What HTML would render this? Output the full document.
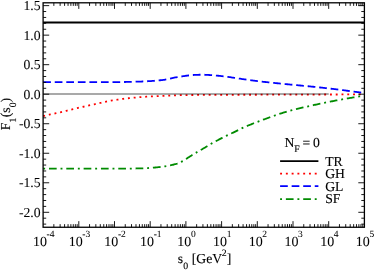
<!DOCTYPE html>
<html><head><meta charset="utf-8"><title>plot</title>
<style>html,body{margin:0;padding:0;background:#fff;overflow:hidden}body{width:374px;height:270px;font-family:"Liberation Serif",serif}</style>
</head><body>
<svg width="374" height="270" viewBox="0 0 374 270" style="display:block">
<rect x="0" y="0" width="374" height="270" fill="#fff"/>
<line x1="43.1" y1="22.55" x2="364.4" y2="22.55" stroke="#000" stroke-width="1.9"/>
<path d="M43.20,116.00 L44.20,115.79 L45.20,115.57 L46.20,115.36 L47.20,115.14 L48.20,114.93 L49.20,114.71 L50.20,114.49 L51.20,114.27 L52.20,114.05 L53.20,113.83 L54.20,113.62 L55.20,113.39 L56.20,113.17 L57.20,112.95 L58.20,112.72 L59.20,112.49 L60.20,112.26 L61.20,112.03 L62.20,111.79 L63.20,111.55 L64.20,111.30 L65.20,111.05 L66.20,110.80 L67.20,110.54 L68.20,110.29 L69.20,110.04 L70.20,109.79 L71.20,109.54 L72.20,109.30 L73.20,109.06 L74.20,108.82 L75.20,108.59 L76.20,108.36 L77.20,108.12 L78.20,107.89 L79.20,107.66 L80.20,107.43 L81.20,107.20 L82.20,106.97 L83.20,106.75 L84.20,106.52 L85.20,106.29 L86.20,106.06 L87.20,105.84 L88.20,105.61 L89.20,105.39 L90.20,105.16 L91.20,104.94 L92.20,104.72 L93.20,104.50 L94.20,104.28 L95.20,104.06 L96.20,103.84 L97.20,103.62 L98.20,103.41 L99.20,103.20 L100.20,102.99 L101.20,102.77 L102.20,102.55 L103.20,102.33 L104.20,102.10 L105.20,101.88 L106.20,101.65 L107.20,101.43 L108.20,101.22 L109.20,101.01 L110.20,100.82 L111.20,100.64 L112.20,100.47 L113.20,100.31 L114.20,100.15 L115.20,99.99 L116.20,99.84 L117.20,99.69 L118.20,99.54 L119.20,99.40 L120.20,99.26 L121.20,99.12 L122.20,98.98 L123.20,98.85 L124.20,98.73 L125.20,98.60 L126.20,98.48 L127.20,98.36 L128.20,98.25 L129.20,98.14 L130.20,98.03 L131.20,97.93 L132.20,97.83 L133.20,97.74 L134.20,97.64 L135.20,97.56 L136.20,97.47 L137.20,97.39 L138.20,97.31 L139.20,97.23 L140.20,97.15 L141.20,97.07 L142.20,97.00 L143.20,96.93 L144.20,96.86 L145.20,96.79 L146.20,96.72 L147.20,96.66 L148.20,96.59 L149.20,96.53 L150.20,96.47 L151.20,96.41 L152.20,96.36 L153.20,96.30 L154.20,96.25 L155.20,96.20 L156.20,96.15 L157.20,96.10 L158.20,96.06 L159.20,96.01 L160.20,95.97 L161.20,95.92 L162.20,95.88 L163.20,95.83 L164.20,95.79 L165.20,95.74 L166.20,95.70 L167.20,95.66 L168.20,95.62 L169.20,95.57 L170.20,95.53 L171.20,95.50 L172.20,95.46 L173.20,95.42 L174.20,95.38 L175.20,95.35 L176.20,95.32 L177.20,95.29 L178.20,95.25 L179.20,95.23 L180.20,95.20 L181.20,95.17 L182.20,95.15 L183.20,95.12 L184.20,95.10 L185.20,95.09 L186.20,95.07 L187.20,95.05 L188.20,95.04 L189.20,95.03 L190.20,95.01 L191.20,95.00 L192.20,94.99 L193.20,94.98 L194.20,94.97 L195.20,94.96 L196.20,94.95 L197.20,94.94 L198.20,94.93 L199.20,94.92 L200.20,94.91 L201.20,94.90 L202.20,94.89 L203.20,94.89 L204.20,94.88 L205.20,94.87 L206.20,94.87 L207.20,94.86 L208.20,94.86 L209.20,94.85 L210.20,94.85 L211.20,94.85 L212.20,94.84 L213.20,94.84 L214.20,94.83 L215.20,94.83 L216.20,94.83 L217.20,94.82 L218.20,94.82 L219.20,94.82 L220.20,94.82 L221.20,94.81 L222.20,94.81 L223.20,94.81 L224.20,94.81 L225.20,94.80 L226.20,94.80 L227.20,94.80 L228.20,94.80 L229.20,94.79 L230.20,94.79 L231.20,94.79 L232.20,94.79 L233.20,94.79 L234.20,94.78 L235.20,94.78 L236.20,94.78 L237.20,94.78 L238.20,94.78 L239.20,94.77 L240.20,94.77 L241.20,94.77 L242.20,94.77 L243.20,94.77 L244.20,94.76 L245.20,94.76 L246.20,94.76 L247.20,94.76 L248.20,94.75 L249.20,94.75 L250.20,94.75 L251.20,94.75 L252.20,94.74 L253.20,94.74 L254.20,94.74 L255.20,94.74 L256.20,94.73 L257.20,94.73 L258.20,94.73 L259.20,94.72 L260.20,94.72 L261.20,94.72 L262.20,94.72 L263.20,94.71 L264.20,94.71 L265.20,94.71 L266.20,94.70 L267.20,94.70 L268.20,94.70 L269.20,94.69 L270.20,94.69 L271.20,94.69 L272.20,94.69 L273.20,94.68 L274.20,94.68 L275.20,94.68 L276.20,94.67 L277.20,94.67 L278.20,94.67 L279.20,94.66 L280.20,94.66 L281.20,94.66 L282.20,94.66 L283.20,94.65 L284.20,94.65 L285.20,94.65 L286.20,94.64 L287.20,94.64 L288.20,94.64 L289.20,94.63 L290.20,94.63 L291.20,94.63 L292.20,94.62 L293.20,94.62 L294.20,94.62 L295.20,94.61 L296.20,94.61 L297.20,94.61 L298.20,94.61 L299.20,94.60 L300.20,94.60 L301.20,94.60 L302.20,94.59 L303.20,94.59 L304.20,94.59 L305.20,94.58 L306.20,94.58 L307.20,94.58 L308.20,94.57 L309.20,94.57 L310.20,94.57 L311.20,94.56 L312.20,94.56 L313.20,94.56 L314.20,94.56 L315.20,94.55 L316.20,94.55 L317.20,94.55 L318.20,94.54 L319.20,94.54 L320.20,94.54 L321.20,94.53 L322.20,94.53 L323.20,94.53 L324.20,94.52 L325.20,94.52 L326.20,94.52 L327.20,94.51 L328.20,94.51 L329.20,94.51 L330.20,94.50 L331.20,94.50 L332.20,94.50 L333.20,94.49 L334.20,94.49 L335.20,94.49 L336.20,94.49 L337.20,94.48 L338.20,94.48 L339.20,94.48 L340.20,94.47 L341.20,94.47 L342.20,94.47 L343.20,94.46 L344.20,94.46 L345.20,94.46 L346.20,94.45 L347.20,94.45 L348.20,94.45 L349.20,94.44 L350.20,94.44 L351.20,94.44 L352.20,94.43 L353.20,94.43 L354.20,94.43 L355.20,94.42 L356.20,94.42 L357.20,94.42 L358.20,94.41 L359.20,94.41 L360.20,94.41 L361.20,94.40 L362.00,94.40" fill="none" stroke="#ff0000" stroke-width="1.8" stroke-dasharray="1.925 3.850"/>
<path d="M43.20,82.15 L44.20,82.15 L45.20,82.15 L46.20,82.15 L47.20,82.15 L48.20,82.15 L49.20,82.15 L50.20,82.15 L51.20,82.15 L52.20,82.15 L53.20,82.15 L54.20,82.15 L55.20,82.15 L56.20,82.15 L57.20,82.15 L58.20,82.15 L59.20,82.15 L60.20,82.15 L61.20,82.15 L62.20,82.15 L63.20,82.15 L64.20,82.15 L65.20,82.15 L66.20,82.15 L67.20,82.15 L68.20,82.15 L69.20,82.15 L70.20,82.15 L71.20,82.15 L72.20,82.15 L73.20,82.15 L74.20,82.15 L75.20,82.15 L76.20,82.15 L77.20,82.15 L78.20,82.15 L79.20,82.15 L80.20,82.15 L81.20,82.15 L82.20,82.15 L83.20,82.15 L84.20,82.15 L85.20,82.15 L86.20,82.15 L87.20,82.15 L88.20,82.15 L89.20,82.15 L90.20,82.15 L91.20,82.15 L92.20,82.15 L93.20,82.15 L94.20,82.15 L95.20,82.15 L96.20,82.15 L97.20,82.15 L98.20,82.15 L99.20,82.15 L100.20,82.15 L101.20,82.15 L102.20,82.15 L103.20,82.15 L104.20,82.15 L105.20,82.15 L106.20,82.15 L107.20,82.15 L108.20,82.15 L109.20,82.15 L110.20,82.15 L111.20,82.15 L112.20,82.15 L113.20,82.15 L114.20,82.15 L115.20,82.14 L116.20,82.13 L117.20,82.12 L118.20,82.11 L119.20,82.10 L120.20,82.09 L121.20,82.07 L122.20,82.05 L123.20,82.04 L124.20,82.02 L125.20,82.00 L126.20,81.97 L127.20,81.95 L128.20,81.92 L129.20,81.90 L130.20,81.87 L131.20,81.84 L132.20,81.82 L133.20,81.79 L134.20,81.76 L135.20,81.73 L136.20,81.69 L137.20,81.66 L138.20,81.63 L139.20,81.60 L140.20,81.56 L141.20,81.53 L142.20,81.49 L143.20,81.46 L144.20,81.42 L145.20,81.37 L146.20,81.32 L147.20,81.27 L148.20,81.22 L149.20,81.16 L150.20,81.10 L151.20,81.03 L152.20,80.96 L153.20,80.89 L154.20,80.81 L155.20,80.73 L156.20,80.64 L157.20,80.56 L158.20,80.46 L159.20,80.37 L160.20,80.27 L161.20,80.16 L162.20,80.06 L163.20,79.94 L164.20,79.80 L165.20,79.62 L166.20,79.43 L167.20,79.22 L168.20,78.99 L169.20,78.76 L170.20,78.52 L171.20,78.29 L172.20,78.06 L173.20,77.85 L174.20,77.65 L175.20,77.48 L176.20,77.31 L177.20,77.14 L178.20,76.99 L179.20,76.83 L180.20,76.68 L181.20,76.52 L182.20,76.37 L183.20,76.21 L184.20,76.05 L185.20,75.89 L186.20,75.75 L187.20,75.62 L188.20,75.51 L189.20,75.40 L190.20,75.30 L191.20,75.19 L192.20,75.09 L193.20,75.01 L194.20,74.93 L195.20,74.87 L196.20,74.83 L197.20,74.80 L198.20,74.79 L199.20,74.77 L200.20,74.76 L201.20,74.76 L202.20,74.75 L203.20,74.75 L204.20,74.76 L205.20,74.79 L206.20,74.84 L207.20,74.89 L208.20,74.94 L209.20,75.00 L210.20,75.06 L211.20,75.13 L212.20,75.20 L213.20,75.28 L214.20,75.36 L215.20,75.46 L216.20,75.55 L217.20,75.66 L218.20,75.76 L219.20,75.87 L220.20,75.98 L221.20,76.10 L222.20,76.21 L223.20,76.32 L224.20,76.44 L225.20,76.56 L226.20,76.69 L227.20,76.82 L228.20,76.95 L229.20,77.09 L230.20,77.23 L231.20,77.38 L232.20,77.53 L233.20,77.67 L234.20,77.82 L235.20,77.97 L236.20,78.13 L237.20,78.28 L238.20,78.43 L239.20,78.58 L240.20,78.73 L241.20,78.88 L242.20,79.02 L243.20,79.17 L244.20,79.31 L245.20,79.45 L246.20,79.59 L247.20,79.73 L248.20,79.87 L249.20,80.01 L250.20,80.15 L251.20,80.29 L252.20,80.43 L253.20,80.56 L254.20,80.69 L255.20,80.82 L256.20,80.95 L257.20,81.08 L258.20,81.20 L259.20,81.32 L260.20,81.43 L261.20,81.55 L262.20,81.66 L263.20,81.78 L264.20,81.89 L265.20,82.00 L266.20,82.11 L267.20,82.22 L268.20,82.33 L269.20,82.44 L270.20,82.55 L271.20,82.65 L272.20,82.76 L273.20,82.86 L274.20,82.96 L275.20,83.07 L276.20,83.17 L277.20,83.27 L278.20,83.37 L279.20,83.47 L280.20,83.57 L281.20,83.67 L282.20,83.77 L283.20,83.86 L284.20,83.96 L285.20,84.06 L286.20,84.16 L287.20,84.25 L288.20,84.35 L289.20,84.44 L290.20,84.54 L291.20,84.64 L292.20,84.73 L293.20,84.83 L294.20,84.92 L295.20,85.02 L296.20,85.11 L297.20,85.21 L298.20,85.30 L299.20,85.40 L300.20,85.49 L301.20,85.59 L302.20,85.69 L303.20,85.78 L304.20,85.88 L305.20,85.98 L306.20,86.07 L307.20,86.17 L308.20,86.27 L309.20,86.37 L310.20,86.47 L311.20,86.57 L312.20,86.67 L313.20,86.77 L314.20,86.87 L315.20,86.97 L316.20,87.08 L317.20,87.18 L318.20,87.29 L319.20,87.39 L320.20,87.50 L321.20,87.61 L322.20,87.72 L323.20,87.83 L324.20,87.94 L325.20,88.05 L326.20,88.16 L327.20,88.28 L328.20,88.39 L329.20,88.51 L330.20,88.63 L331.20,88.74 L332.20,88.86 L333.20,88.98 L334.20,89.10 L335.20,89.22 L336.20,89.35 L337.20,89.47 L338.20,89.59 L339.20,89.72 L340.20,89.84 L341.20,89.97 L342.20,90.09 L343.20,90.22 L344.20,90.35 L345.20,90.48 L346.20,90.61 L347.20,90.74 L348.20,90.87 L349.20,91.00 L350.20,91.13 L351.20,91.26 L352.20,91.39 L353.20,91.52 L354.20,91.65 L355.20,91.79 L356.20,91.92 L357.20,92.05 L358.20,92.19 L359.20,92.32 L360.20,92.46 L361.20,92.59 L362.00,92.70" fill="none" stroke="#0000ff" stroke-width="1.8" stroke-dasharray="7.700 3.850"/>
<path d="M43.20,168.70 L44.20,168.70 L45.20,168.70 L46.20,168.70 L47.20,168.70 L48.20,168.70 L49.20,168.70 L50.20,168.70 L51.20,168.70 L52.20,168.70 L53.20,168.70 L54.20,168.70 L55.20,168.70 L56.20,168.70 L57.20,168.70 L58.20,168.70 L59.20,168.70 L60.20,168.70 L61.20,168.70 L62.20,168.70 L63.20,168.70 L64.20,168.70 L65.20,168.70 L66.20,168.70 L67.20,168.70 L68.20,168.70 L69.20,168.70 L70.20,168.70 L71.20,168.70 L72.20,168.70 L73.20,168.70 L74.20,168.70 L75.20,168.70 L76.20,168.70 L77.20,168.70 L78.20,168.70 L79.20,168.70 L80.20,168.70 L81.20,168.70 L82.20,168.70 L83.20,168.70 L84.20,168.70 L85.20,168.70 L86.20,168.70 L87.20,168.70 L88.20,168.70 L89.20,168.70 L90.20,168.70 L91.20,168.70 L92.20,168.70 L93.20,168.70 L94.20,168.70 L95.20,168.70 L96.20,168.70 L97.20,168.70 L98.20,168.70 L99.20,168.70 L100.20,168.70 L101.20,168.70 L102.20,168.70 L103.20,168.70 L104.20,168.70 L105.20,168.70 L106.20,168.70 L107.20,168.70 L108.20,168.70 L109.20,168.70 L110.20,168.70 L111.20,168.70 L112.20,168.70 L113.20,168.70 L114.20,168.70 L115.20,168.70 L116.20,168.70 L117.20,168.69 L118.20,168.69 L119.20,168.68 L120.20,168.68 L121.20,168.67 L122.20,168.66 L123.20,168.65 L124.20,168.64 L125.20,168.63 L126.20,168.62 L127.20,168.61 L128.20,168.60 L129.20,168.59 L130.20,168.57 L131.20,168.56 L132.20,168.54 L133.20,168.53 L134.20,168.51 L135.20,168.49 L136.20,168.47 L137.20,168.46 L138.20,168.44 L139.20,168.42 L140.20,168.40 L141.20,168.37 L142.20,168.34 L143.20,168.30 L144.20,168.26 L145.20,168.21 L146.20,168.16 L147.20,168.10 L148.20,168.03 L149.20,167.96 L150.20,167.89 L151.20,167.81 L152.20,167.73 L153.20,167.65 L154.20,167.57 L155.20,167.48 L156.20,167.40 L157.20,167.31 L158.20,167.22 L159.20,167.11 L160.20,167.00 L161.20,166.88 L162.20,166.75 L163.20,166.61 L164.20,166.46 L165.20,166.31 L166.20,166.15 L167.20,165.98 L168.20,165.81 L169.20,165.62 L170.20,165.42 L171.20,165.21 L172.20,164.99 L173.20,164.75 L174.20,164.49 L175.20,164.21 L176.20,163.92 L177.20,163.58 L178.20,163.20 L179.20,162.78 L180.20,162.34 L181.20,161.86 L182.20,161.36 L183.20,160.85 L184.20,160.26 L185.20,159.61 L186.20,158.92 L187.20,158.23 L188.20,157.57 L189.20,156.94 L190.20,156.31 L191.20,155.69 L192.20,155.07 L193.20,154.46 L194.20,153.85 L195.20,153.24 L196.20,152.64 L197.20,152.05 L198.20,151.46 L199.20,150.89 L200.20,150.31 L201.20,149.74 L202.20,149.17 L203.20,148.59 L204.20,148.00 L205.20,147.40 L206.20,146.78 L207.20,146.15 L208.20,145.52 L209.20,144.90 L210.20,144.29 L211.20,143.70 L212.20,143.13 L213.20,142.58 L214.20,142.03 L215.20,141.50 L216.20,140.97 L217.20,140.45 L218.20,139.93 L219.20,139.41 L220.20,138.89 L221.20,138.38 L222.20,137.87 L223.20,137.37 L224.20,136.86 L225.20,136.37 L226.20,135.87 L227.20,135.38 L228.20,134.90 L229.20,134.42 L230.20,133.95 L231.20,133.48 L232.20,133.02 L233.20,132.56 L234.20,132.09 L235.20,131.61 L236.20,131.11 L237.20,130.60 L238.20,130.08 L239.20,129.57 L240.20,129.06 L241.20,128.57 L242.20,128.09 L243.20,127.64 L244.20,127.20 L245.20,126.77 L246.20,126.35 L247.20,125.93 L248.20,125.53 L249.20,125.12 L250.20,124.72 L251.20,124.32 L252.20,123.92 L253.20,123.52 L254.20,123.13 L255.20,122.74 L256.20,122.35 L257.20,121.96 L258.20,121.58 L259.20,121.20 L260.20,120.83 L261.20,120.45 L262.20,120.08 L263.20,119.70 L264.20,119.34 L265.20,118.97 L266.20,118.60 L267.20,118.24 L268.20,117.88 L269.20,117.52 L270.20,117.16 L271.20,116.81 L272.20,116.45 L273.20,116.10 L274.20,115.74 L275.20,115.39 L276.20,115.03 L277.20,114.69 L278.20,114.34 L279.20,114.00 L280.20,113.67 L281.20,113.35 L282.20,113.03 L283.20,112.73 L284.20,112.43 L285.20,112.13 L286.20,111.85 L287.20,111.57 L288.20,111.29 L289.20,111.02 L290.20,110.75 L291.20,110.48 L292.20,110.21 L293.20,109.95 L294.20,109.68 L295.20,109.43 L296.20,109.17 L297.20,108.91 L298.20,108.66 L299.20,108.41 L300.20,108.17 L301.20,107.92 L302.20,107.68 L303.20,107.44 L304.20,107.21 L305.20,106.97 L306.20,106.74 L307.20,106.51 L308.20,106.29 L309.20,106.06 L310.20,105.84 L311.20,105.62 L312.20,105.40 L313.20,105.18 L314.20,104.97 L315.20,104.75 L316.20,104.53 L317.20,104.31 L318.20,104.09 L319.20,103.88 L320.20,103.66 L321.20,103.45 L322.20,103.24 L323.20,103.03 L324.20,102.82 L325.20,102.62 L326.20,102.42 L327.20,102.22 L328.20,102.03 L329.20,101.83 L330.20,101.64 L331.20,101.44 L332.20,101.25 L333.20,101.06 L334.20,100.87 L335.20,100.68 L336.20,100.49 L337.20,100.30 L338.20,100.12 L339.20,99.93 L340.20,99.74 L341.20,99.56 L342.20,99.38 L343.20,99.20 L344.20,99.02 L345.20,98.84 L346.20,98.66 L347.20,98.48 L348.20,98.31 L349.20,98.13 L350.20,97.96 L351.20,97.79 L352.20,97.62 L353.20,97.45 L354.20,97.29 L355.20,97.12 L356.20,96.96 L357.20,96.80 L358.20,96.64 L359.20,96.48 L360.20,96.32 L361.00,96.20" fill="none" stroke="#008b00" stroke-width="1.8" stroke-dasharray="1.925 3.850 7.700 3.850"/>
<line x1="43.1" y1="94.05" x2="328.70" y2="94.05" stroke="#8c8c8c" stroke-width="1.4" style="mix-blend-mode:multiply"/>
<rect x="43.1" y="2.8" width="321.29999999999995" height="224.45" fill="none" stroke="#000" stroke-width="1.3"/>
<path d="M43.1,224.11h3.1 M364.4,224.11h-3.1 M43.1,218.20h3.1 M364.4,218.20h-3.1 M43.1,212.30h6.1 M364.4,212.30h-6.1 M43.1,206.39h3.1 M364.4,206.39h-3.1 M43.1,200.49h3.1 M364.4,200.49h-3.1 M43.1,194.58h3.1 M364.4,194.58h-3.1 M43.1,188.68h3.1 M364.4,188.68h-3.1 M43.1,182.77h6.1 M364.4,182.77h-6.1 M43.1,176.87h3.1 M364.4,176.87h-3.1 M43.1,170.97h3.1 M364.4,170.97h-3.1 M43.1,165.06h3.1 M364.4,165.06h-3.1 M43.1,159.16h3.1 M364.4,159.16h-3.1 M43.1,153.25h6.1 M364.4,153.25h-6.1 M43.1,147.34h3.1 M364.4,147.34h-3.1 M43.1,141.44h3.1 M364.4,141.44h-3.1 M43.1,135.53h3.1 M364.4,135.53h-3.1 M43.1,129.63h3.1 M364.4,129.63h-3.1 M43.1,123.72h6.1 M364.4,123.72h-6.1 M43.1,117.82h3.1 M364.4,117.82h-3.1 M43.1,111.92h3.1 M364.4,111.92h-3.1 M43.1,106.01h3.1 M364.4,106.01h-3.1 M43.1,100.11h3.1 M364.4,100.11h-3.1 M43.1,94.20h6.1 M364.4,94.20h-6.1 M43.1,88.30h3.1 M364.4,88.30h-3.1 M43.1,82.39h3.1 M364.4,82.39h-3.1 M43.1,76.48h3.1 M364.4,76.48h-3.1 M43.1,70.58h3.1 M364.4,70.58h-3.1 M43.1,64.68h6.1 M364.4,64.68h-6.1 M43.1,58.77h3.1 M364.4,58.77h-3.1 M43.1,52.87h3.1 M364.4,52.87h-3.1 M43.1,46.96h3.1 M364.4,46.96h-3.1 M43.1,41.06h3.1 M364.4,41.06h-3.1 M43.1,35.15h6.1 M364.4,35.15h-6.1 M43.1,29.25h3.1 M364.4,29.25h-3.1 M43.1,23.34h3.1 M364.4,23.34h-3.1 M43.1,17.44h3.1 M364.4,17.44h-3.1 M43.1,11.53h3.1 M364.4,11.53h-3.1 M43.1,5.63h6.1 M364.4,5.63h-6.1 M53.85,227.25v-3.1 M53.85,2.8v3.1 M60.13,227.25v-3.1 M60.13,2.8v3.1 M64.59,227.25v-3.1 M64.59,2.8v3.1 M68.05,227.25v-3.1 M68.05,2.8v3.1 M70.88,227.25v-3.1 M70.88,2.8v3.1 M73.27,227.25v-3.1 M73.27,2.8v3.1 M75.34,227.25v-3.1 M75.34,2.8v3.1 M77.17,227.25v-3.1 M77.17,2.8v3.1 M78.80,227.25v-6.1 M78.80,2.8v6.1 M89.55,227.25v-3.1 M89.55,2.8v3.1 M95.83,227.25v-3.1 M95.83,2.8v3.1 M100.29,227.25v-3.1 M100.29,2.8v3.1 M103.75,227.25v-3.1 M103.75,2.8v3.1 M106.58,227.25v-3.1 M106.58,2.8v3.1 M108.97,227.25v-3.1 M108.97,2.8v3.1 M111.04,227.25v-3.1 M111.04,2.8v3.1 M112.87,227.25v-3.1 M112.87,2.8v3.1 M114.50,227.25v-6.1 M114.50,2.8v6.1 M125.25,227.25v-3.1 M125.25,2.8v3.1 M131.53,227.25v-3.1 M131.53,2.8v3.1 M135.99,227.25v-3.1 M135.99,2.8v3.1 M139.45,227.25v-3.1 M139.45,2.8v3.1 M142.28,227.25v-3.1 M142.28,2.8v3.1 M144.67,227.25v-3.1 M144.67,2.8v3.1 M146.74,227.25v-3.1 M146.74,2.8v3.1 M148.57,227.25v-3.1 M148.57,2.8v3.1 M150.20,227.25v-6.1 M150.20,2.8v6.1 M160.95,227.25v-3.1 M160.95,2.8v3.1 M167.23,227.25v-3.1 M167.23,2.8v3.1 M171.69,227.25v-3.1 M171.69,2.8v3.1 M175.15,227.25v-3.1 M175.15,2.8v3.1 M177.98,227.25v-3.1 M177.98,2.8v3.1 M180.37,227.25v-3.1 M180.37,2.8v3.1 M182.44,227.25v-3.1 M182.44,2.8v3.1 M184.27,227.25v-3.1 M184.27,2.8v3.1 M185.90,227.25v-6.1 M185.90,2.8v6.1 M196.65,227.25v-3.1 M196.65,2.8v3.1 M202.93,227.25v-3.1 M202.93,2.8v3.1 M207.39,227.25v-3.1 M207.39,2.8v3.1 M210.85,227.25v-3.1 M210.85,2.8v3.1 M213.68,227.25v-3.1 M213.68,2.8v3.1 M216.07,227.25v-3.1 M216.07,2.8v3.1 M218.14,227.25v-3.1 M218.14,2.8v3.1 M219.97,227.25v-3.1 M219.97,2.8v3.1 M221.60,227.25v-6.1 M221.60,2.8v6.1 M232.35,227.25v-3.1 M232.35,2.8v3.1 M238.63,227.25v-3.1 M238.63,2.8v3.1 M243.09,227.25v-3.1 M243.09,2.8v3.1 M246.55,227.25v-3.1 M246.55,2.8v3.1 M249.38,227.25v-3.1 M249.38,2.8v3.1 M251.77,227.25v-3.1 M251.77,2.8v3.1 M253.84,227.25v-3.1 M253.84,2.8v3.1 M255.67,227.25v-3.1 M255.67,2.8v3.1 M257.30,227.25v-6.1 M257.30,2.8v6.1 M268.05,227.25v-3.1 M268.05,2.8v3.1 M274.33,227.25v-3.1 M274.33,2.8v3.1 M278.79,227.25v-3.1 M278.79,2.8v3.1 M282.25,227.25v-3.1 M282.25,2.8v3.1 M285.08,227.25v-3.1 M285.08,2.8v3.1 M287.47,227.25v-3.1 M287.47,2.8v3.1 M289.54,227.25v-3.1 M289.54,2.8v3.1 M291.37,227.25v-3.1 M291.37,2.8v3.1 M293.00,227.25v-6.1 M293.00,2.8v6.1 M303.75,227.25v-3.1 M303.75,2.8v3.1 M310.03,227.25v-3.1 M310.03,2.8v3.1 M314.49,227.25v-3.1 M314.49,2.8v3.1 M317.95,227.25v-3.1 M317.95,2.8v3.1 M320.78,227.25v-3.1 M320.78,2.8v3.1 M323.17,227.25v-3.1 M323.17,2.8v3.1 M325.24,227.25v-3.1 M325.24,2.8v3.1 M327.07,227.25v-3.1 M327.07,2.8v3.1 M328.70,227.25v-6.1 M328.70,2.8v6.1 M339.45,227.25v-3.1 M339.45,2.8v3.1 M345.73,227.25v-3.1 M345.73,2.8v3.1 M350.19,227.25v-3.1 M350.19,2.8v3.1 M353.65,227.25v-3.1 M353.65,2.8v3.1 M356.48,227.25v-3.1 M356.48,2.8v3.1 M358.87,227.25v-3.1 M358.87,2.8v3.1 M360.94,227.25v-3.1 M360.94,2.8v3.1 M362.77,227.25v-3.1 M362.77,2.8v3.1" stroke="#000" stroke-width="0.9" fill="none"/>
<g font-family="Liberation Serif, serif" font-size="13.7" fill="#000" stroke="#000" stroke-width="0.12" style="text-rendering:geometricPrecision;will-change:transform">
<text x="40.60" y="10.33" text-anchor="end" stroke-width="0.05">1.5</text>
<text x="40.60" y="39.85" text-anchor="end" stroke-width="0.05">1.0</text>
<text x="40.60" y="69.38" text-anchor="end" stroke-width="0.05">0.5</text>
<text x="40.60" y="98.90" text-anchor="end" stroke-width="0.05">0.0</text>
<text x="40.60" y="128.42" text-anchor="end" stroke-width="0.05">-0.5</text>
<text x="40.60" y="157.95" text-anchor="end" stroke-width="0.05">-1.0</text>
<text x="40.60" y="187.47" text-anchor="end" stroke-width="0.05">-1.5</text>
<text x="40.60" y="217.00" text-anchor="end" stroke-width="0.05">-2.0</text>
<text x="43.70" y="245.6" font-size="14" stroke-width="0.05" text-anchor="middle">10<tspan font-size="9.5" dy="-8.9" dx="-0.4">-4</tspan></text>
<text x="79.40" y="245.6" font-size="14" stroke-width="0.05" text-anchor="middle">10<tspan font-size="9.5" dy="-8.9" dx="-0.4">-3</tspan></text>
<text x="115.10" y="245.6" font-size="14" stroke-width="0.05" text-anchor="middle">10<tspan font-size="9.5" dy="-8.9" dx="-0.4">-2</tspan></text>
<text x="150.80" y="245.6" font-size="14" stroke-width="0.05" text-anchor="middle">10<tspan font-size="9.5" dy="-8.9" dx="-0.4">-1</tspan></text>
<text x="186.50" y="245.6" font-size="14" stroke-width="0.05" text-anchor="middle">10<tspan font-size="9.5" dy="-8.9" dx="-0.4">0</tspan></text>
<text x="222.20" y="245.6" font-size="14" stroke-width="0.05" text-anchor="middle">10<tspan font-size="9.5" dy="-8.9" dx="-0.4">1</tspan></text>
<text x="257.90" y="245.6" font-size="14" stroke-width="0.05" text-anchor="middle">10<tspan font-size="9.5" dy="-8.9" dx="-0.4">2</tspan></text>
<text x="293.60" y="245.6" font-size="14" stroke-width="0.05" text-anchor="middle">10<tspan font-size="9.5" dy="-8.9" dx="-0.4">3</tspan></text>
<text x="329.30" y="245.6" font-size="14" stroke-width="0.05" text-anchor="middle">10<tspan font-size="9.5" dy="-8.9" dx="-0.4">4</tspan></text>
<text x="365.00" y="245.6" font-size="14" stroke-width="0.05" text-anchor="middle">10<tspan font-size="9.5" dy="-8.9" dx="-0.4">5</tspan></text>
<text x="204.5" y="263.4" text-anchor="middle">s<tspan font-size="9.8" dy="5.4" dx="0.3">0</tspan><tspan dy="-5.4"> [GeV</tspan><tspan font-size="9.8" dy="-7.6" dx="-0.3">2</tspan><tspan dy="7.6">]</tspan></text>
<text transform="translate(9.6,114.1) rotate(-90)" text-anchor="middle">F<tspan font-size="9.8" dy="6.0" dx="0.3">1</tspan><tspan dy="-6.0" dx="0.3">(s</tspan><tspan font-size="9.8" dy="6.0">0</tspan><tspan dy="-6.0">)</tspan></text>
<text x="284.4" y="147.2">N<tspan font-size="9.8" dy="4.6">F</tspan><tspan dy="-4.6" dx="-0.6"> =</tspan><tspan dx="-0.7"> 0</tspan></text>
<text x="325.2" y="165.50">TR</text>
<text x="325.2" y="177.95">GH</text>
<text x="325.2" y="190.55">GL</text>
<text x="325.2" y="203.45">SF</text>
</g>
<line x1="280.1" y1="161.15" x2="318.4" y2="161.15" stroke="#000" stroke-width="1.8"/>
<line x1="280.1" y1="173.6" x2="318.4" y2="173.6" stroke="#ff0000" stroke-width="1.8" stroke-dasharray="1.925 3.850"/>
<line x1="280.1" y1="186.2" x2="318.4" y2="186.2" stroke="#0000ff" stroke-width="1.8" stroke-dasharray="7.700 3.850"/>
<line x1="280.1" y1="199.1" x2="318.4" y2="199.1" stroke="#008b00" stroke-width="1.8" stroke-dasharray="1.925 3.850 7.700 3.850"/>
</svg>
</body></html>
